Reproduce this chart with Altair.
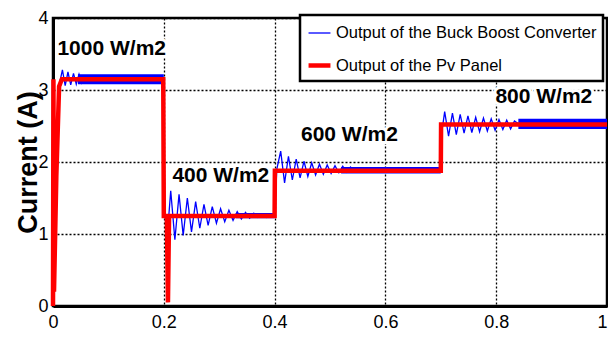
import altair as alt
import pandas as pd

# ---------------- data ----------------
series_names = ["Output of the Buck Boost Converter", "Output of the Pv Panel"]

conv_t = [0.0, 0.004, 0.008, 0.012, 0.017, 0.022, 0.027, 0.032, 0.037, 0.042, 0.047, 0.052, 0.057, 0.1, 0.199,
          0.2, 0.2015, 0.205, 0.2125, 0.22, 0.2275, 0.235, 0.2425, 0.25, 0.2575, 0.265, 0.2725, 0.28, 0.2875,
          0.295, 0.3025, 0.31, 0.3175, 0.325, 0.3325, 0.34, 0.3475, 0.355, 0.3625, 0.37, 0.3775, 0.385, 0.3925, 0.4,
          0.404, 0.411, 0.418, 0.425, 0.432, 0.439, 0.446, 0.453, 0.46, 0.467, 0.474, 0.481, 0.488, 0.495, 0.502,
          0.509, 0.516, 0.523, 0.53, 0.537, 0.544, 0.551, 0.56, 0.7,
          0.7015, 0.707, 0.714, 0.721, 0.728, 0.735, 0.742, 0.749, 0.756, 0.763, 0.77, 0.777, 0.784, 0.791, 0.798,
          0.805, 0.812, 0.819, 0.826, 0.833, 0.84, 1.0]
conv_i = [0.0, 1.2, 2.6, 3.1, 3.28, 3.06, 3.25, 3.07, 3.23, 3.08, 3.22, 3.1, 3.2, 3.15, 3.15,
          3.15, 1.5, 0.85, 1.6, 0.92, 1.55, 0.98, 1.5, 1.03, 1.45, 1.08, 1.41, 1.12, 1.38,
          1.15, 1.35, 1.17, 1.33, 1.19, 1.31, 1.21, 1.3, 1.22, 1.29, 1.23, 1.28, 1.23, 1.28, 1.25,
          1.9, 2.15, 1.71, 2.08, 1.75, 2.04, 1.78, 2.01, 1.8, 1.99, 1.82, 1.97, 1.83, 1.96, 1.84,
          1.95, 1.85, 1.94, 1.86, 1.93, 1.87, 1.92, 1.88, 1.88,
          2.4, 2.7, 2.36, 2.68, 2.38, 2.66, 2.4, 2.64, 2.41, 2.62, 2.42, 2.61, 2.43, 2.6, 2.44,
          2.59, 2.45, 2.58, 2.46, 2.57, 2.53, 2.53]

pv_t = [0.0, 0.0008, 0.0018, 0.006, 0.011, 0.016, 0.199, 0.2, 0.2055, 0.2075, 0.2095, 0.4, 0.4005, 0.7, 0.7005, 1.0]
pv_i = [0.0, 3.15, 0.2, 1.8, 3.05, 3.15, 3.15, 1.25, 1.25, 0.05, 1.25, 1.25, 1.88, 1.88, 2.52, 2.52]

# ripple band of the converter output in steady state
band_t0 = [0.045, 0.33, 0.52, 0.84]
band_t1 = [0.2, 0.4, 0.7, 1.0]
band_lo = [3.08, 1.22, 1.84, 2.46]
band_hi = [3.22, 1.29, 1.93, 2.60]

ann_text = ["1000 W/m2", "400 W/m2", "600 W/m2", "800 W/m2"]
ann_t = [0.106, 0.303, 0.535, 0.886]
ann_i = [3.57, 1.80, 2.37, 2.90]

x_ticks = [0, 0.2, 0.4, 0.6, 0.8, 1]
y_ticks = [0, 1, 2, 3, 4]

# ---------------- tables ----------------
lines = pd.concat([
    pd.DataFrame({"t": conv_t, "i": conv_i, "series": series_names[0], "idx": range(len(conv_t))}),
    pd.DataFrame({"t": pv_t, "i": pv_i, "series": series_names[1], "idx": range(len(pv_t))}),
], ignore_index=True)
bands = pd.DataFrame({"t": band_t0, "t1": band_t1, "i": band_lo, "i1": band_hi})
ann = pd.DataFrame({"t": ann_t, "i": ann_i, "label": ann_text})

FONT = "Liberation Sans, Arial, sans-serif"

xs = alt.Scale(domain=[0, 1], nice=False)
ys = alt.Scale(domain=[0, 4], nice=False)
x_axis = alt.Axis(values=x_ticks, title="t(s)", format="~g", labelFlush=False, labelOverlap=False,
                  labelAlign={"condition": {"test": "datum.value == 1", "value": "right"}, "value": "center"},
                  titleX=277, titleY=30, titleBaseline="top", titleAlign="center")
y_axis = alt.Axis(values=y_ticks, title="Current (A)", format="~g", labelFlush=False, labelOverlap=False,
                  titleX=-25, titleY=144, titleAngle=270, titleAlign="center", titleBaseline="middle")

X = alt.X("t:Q", scale=xs, axis=x_axis)
Y = alt.Y("i:Q", scale=ys, axis=y_axis)

band_layer = alt.Chart(bands).mark_rect(color="#0000ff").encode(
    x=X, x2="t1:Q", y=Y, y2="i1:Q"
)

line_layer = alt.Chart(lines).mark_line(strokeJoin="miter", interpolate="linear").encode(
    x=X, y=Y,
    order="idx:Q",
    color=alt.Color("series:N", scale=alt.Scale(domain=series_names, range=["#0000ff", "#ff0000"]),
                    legend=alt.Legend(title=None)),
    strokeWidth=alt.StrokeWidth("series:N", scale=alt.Scale(domain=series_names, range=[1.3, 4.5]),
                                legend=alt.Legend(title=None)),
)

ann_bg = alt.Chart(ann).mark_text(font=FONT, fontWeight="bold", fontSize=21, color="white",
                                  stroke="white", strokeWidth=6).encode(x=X, y=Y, text="label:N")
ann_fg = alt.Chart(ann).mark_text(font=FONT, fontWeight="bold", fontSize=21, color="black").encode(
    x=X, y=Y, text="label:N")

chart = alt.layer(band_layer, line_layer, ann_bg, ann_fg).properties(
    width=554, height=288,
    autosize=alt.AutoSizeParams(type="none"),
    padding={"left": 45, "top": 10, "right": 1, "bottom": 29},
).configure_view(
    stroke="black", strokeWidth=2.5
).configure_axis(
    domainColor="black", domainWidth=3, ticks=False,
    grid=True, gridColor="black", gridDash=[2, 2], gridWidth=1.3, gridOpacity=1,
    labelFont=FONT, labelFontSize=18, labelColor="black",
    titleFont=FONT, titleFontSize=27, titleFontWeight="bold", titleColor="black",
).configure_axisY(
    labelPadding=5
).configure_axisX(
    labelPadding=7
).configure_legend(
    orient="none", legendX=247, legendY=-3,
    strokeColor="black", strokeWidth=2.5, fillColor="white",
    padding=6, rowPadding=10,
    labelFont=FONT, labelFontSize=16.5, labelColor="black", labelLimit=400, labelOffset=3,
    symbolType="stroke", symbolSize=480,
)

chart.save("out.html", embed_options={"renderer": "svg", "actions": False})
